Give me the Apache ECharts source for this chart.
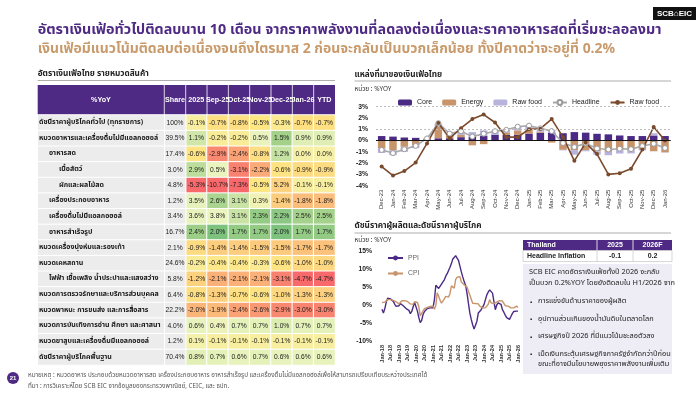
<!DOCTYPE html>
<html><head><meta charset="utf-8">
<script src="https://cdn.jsdelivr.net/npm/echarts@6/dist/echarts.min.js"></script>
<style>html,body{margin:0;padding:0;background:#fff}#c{width:700px;height:394px}</style>
</head><body><div id="c"></div>
<script>
// ---------------- DATA ----------------
const titleLine1 = 'อัตราเงินเฟ้อทั่วไปติดลบนาน 10 เดือน จากราคาพลังงานที่ลดลงต่อเนื่องและราคาอาหารสดที่เริ่มชะลอลงมา';
const titleLine2 = 'เงินเฟ้อมีแนวโน้มติดลบต่อเนื่องจนถึงไตรมาส 2 ก่อนจะกลับเป็นบวกเล็กน้อย ทั้งปีคาดว่าจะอยู่ที่ 0.2%';

const tableColumns = ['2025','Sep-25','Oct-25','Nov-25','Dec-25','Jan-26','YTD'];
const rowNames = [
  'ดัชนีราคาผู้บริโภคทั่วไป (ทุกรายการ)',
  'หมวดอาหารและเครื่องดื่มไม่มีแอลกอฮอล์',
  'อาหารสด',
  'เนื้อสัตว์',
  'ผักและผลไม้สด',
  'เครื่องประกอบอาหาร',
  'เครื่องดื่มไม่มีแอลกอฮอล์',
  'อาหารสำเร็จรูป',
  'หมวดเครื่องนุ่งห่มและรองเท้า',
  'หมวดเคหสถาน',
  'ไฟฟ้า เชื้อเพลิง น้ำประปาและแสงสว่าง',
  'หมวดการตรวจรักษาและบริการส่วนบุคคล',
  'หมวดพาหนะ การขนส่ง และการสื่อสาร',
  'หมวดการบันเทิงการอ่าน ศึกษา และศาสนา',
  'หมวดยาสูบและเครื่องดื่มมีแอลกอฮอล์',
  'ดัชนีราคาผู้บริโภคพื้นฐาน'
];
const rowLevels = [0,0,1,2,2,1,1,1,0,0,1,0,0,0,0,0];
const rowShares = [100,39.5,17.4,3.0,4.8,1.2,3.4,16.7,2.1,24.6,5.8,6.4,22.2,4.0,1.2,70.4];
const tableValues = [
  [-0.1,-0.7,-0.8,-0.5,-0.3,-0.7,-0.7],
  [1.1,-0.2,-0.2,0.5,1.5,0.9,0.9],
  [-0.6,-2.9,-2.4,-0.8,1.2,0.0,0.0],
  [2.9,0.5,-3.1,-2.2,-0.6,-0.9,-0.9],
  [-5.3,-10.7,-7.3,-0.5,5.2,-0.1,-0.1],
  [3.5,2.6,3.1,0.3,-1.4,-1.8,-1.8],
  [3.6,3.8,3.1,2.3,2.2,2.5,2.5],
  [2.4,2.0,1.7,1.7,2.0,1.7,1.7],
  [-0.9,-1.4,-1.4,-1.5,-1.5,-1.7,-1.7],
  [-0.2,-0.4,-0.4,-0.3,-0.6,-1.0,-1.0],
  [-1.2,-2.1,-2.1,-2.1,-3.1,-4.7,-4.7],
  [-0.8,-1.3,-0.7,-0.6,-1.0,-1.3,-1.3],
  [-2.0,-1.9,-2.4,-2.6,-2.9,-3.0,-3.0],
  [0.6,0.4,0.7,0.7,1.0,0.7,0.7],
  [0.1,-0.1,-0.1,-0.1,-0.1,-0.1,-0.1],
  [0.8,0.7,0.6,0.7,0.6,0.6,0.6]
];

const srcMonths = ['Dec-23','Jan-24','Feb-24','Mar-24','Apr-24','May-24','Jun-24','Jul-24','Aug-24','Sep-24','Oct-24','Nov-24','Dec-24',
  'Jan-25','Feb-25','Mar-25','Apr-25','May-25','Jun-25','Jul-25','Aug-25','Sep-25','Oct-25','Nov-25','Dec-25','Jan-26'];
const coreContrib   = [0.4,0.35,0.27,0.24,0.12,0.2,0.2,0.3,0.35,0.4,0.5,0.5,0.5,0.62,0.7,0.7,0.65,0.75,0.7,0.6,0.55,0.45,0.4,0.4,0.45,0.4];
const energyContrib = [-0.7,-0.85,-0.55,-0.42,0.08,1.0,0.25,0.2,-0.42,-0.32,-0.05,0.2,0.4,0.35,0.1,-0.18,-0.82,-0.85,-0.85,-0.95,-1.0,-0.85,-0.82,-0.75,-0.95,-1.05];
const rawFoodContrib= [-0.4,-0.45,-0.45,-0.25,0.0,0.3,0.15,0.3,0.4,0.5,0.4,0.25,0.3,0.33,0.28,0.25,-0.05,-0.4,-0.1,-0.3,-0.3,-0.3,-0.32,-0.12,0.2,-0.02];
const headlineYoY   = [-0.83,-1.11,-0.77,-0.47,0.19,1.54,0.62,0.83,0.35,0.61,0.83,0.95,1.23,1.32,1.08,0.84,-0.22,-0.58,-0.25,-0.70,-0.79,-0.72,-0.76,-0.49,-0.28,-0.66];
const rawFoodYoY    = [-2.3,-3.1,-2.7,-1.95,-0.25,1.55,0.2,1.1,1.9,2.3,1.6,0.3,0.3,1.0,1.05,1.9,0.3,-1.8,-0.2,-1.2,-3.0,-2.9,-2.5,-0.8,1.2,0.0];

const ppiYears = ['18','19','20','21','22','23','24','25'];
const ppiMonthNames = ['Jan','Feb','Mar','Apr','May','Jun','Jul','Aug','Sep','Oct','Nov','Dec'];
const ppiYoY = [
  -1.2,-2.2,-1.0,0.8,1.9,1.6,1.7,1.2,1.0,0.2,-0.4,-0.8,
  -0.2,0.4,0.1,-0.2,-0.6,-1.0,-1.3,-1.5,-2.4,-1.8,-0.5,0.7,
  0.3,-1.7,-3.5,-4.9,-4.3,-2.6,-1.8,-1.3,-1.0,-0.9,-0.8,-0.6,
  -0.8,1.5,5.5,5.0,4.6,5.0,5.8,6.4,7.0,8.0,8.7,9.6,
  10.5,11.5,12.8,13.2,13.7,13.0,12.4,10.8,9.2,7.8,6.5,5.5,
  3.3,0.5,-2.2,-4.0,-5.5,-6.7,-5.6,-4.5,-2.2,-1.8,-1.3,-0.6,
  0.1,1.5,2.8,3.6,4.2,3.9,3.3,1.0,-1.3,0.0,0.6,1.0,
  0.2,-1.3,-2.0,-2.8,-3.5,-3.8,-4.0,-3.2,-2.4,-1.8,-1.5,-1.7,
  -1.7
];
const cpiYoY = [
  0.7,0.4,0.8,1.1,1.5,1.4,1.5,1.6,1.3,1.2,0.9,0.4,
  0.3,0.7,1.2,1.2,1.2,0.9,1.0,0.5,0.3,0.1,0.2,0.9,
  1.1,0.7,-0.5,-3.0,-3.4,-1.6,-1.0,-0.5,-0.7,-0.5,-0.4,-0.3,
  -0.3,-1.2,-0.1,3.4,2.4,1.3,0.5,0.0,1.7,2.4,2.7,2.2,
  3.2,5.3,5.7,4.7,7.1,7.7,7.6,7.9,6.4,6.0,5.6,5.9,
  5.0,3.8,2.8,2.7,0.5,0.2,0.4,0.9,0.3,-0.3,-0.4,-0.8,
  -1.1,-0.8,-0.5,0.2,1.5,0.6,0.8,0.4,0.6,0.8,1.0,1.2,
  1.3,1.1,0.8,-0.2,-0.6,-0.3,-0.7,-0.8,-0.7,-0.8,-0.5,-0.3,
  -0.7
];

const forecastHeader = ['Thailand','2025','2026F'];
const forecastRowName = 'Headline Inflation';
const forecastValues = [-0.1, 0.2];

const boxText = ['SCB EIC คาดอัตราเงินเฟ้อทั้งปี 2026 จะกลับ','เป็นบวก 0.2%YOY โดยยังติดลบใน H1/2026 จาก'];
const boxBullets = [
  ['การแข่งขันด้านราคาของผู้ผลิต'],
  ['อุปทานส่วนเกินของน้ำมันดิบในตลาดโลก'],
  ['เศรษฐกิจปี 2026 ที่มีแนวโน้มชะลอตัวลง'],
  ['เม็ดเงินกระตุ้นเศรษฐกิจภาครัฐจำกัดกว่าปีก่อน','ขณะที่อาจมีนโยบายพยุงราคาพลังงานเพิ่มเติม']
];
const footNote = 'หมายเหตุ : หมวดอาหาร ประกอบด้วยหมวดอาหารสด เครื่องประกอบอาหาร อาหารสำเร็จรูป และเครื่องดื่มไม่มีแอลกอฮอล์เพื่อให้สามารถเปรียบเทียบระหว่างประเทศได้';
const sourceNote = 'ที่มา : การวิเคราะห์โดย SCB EIC จากข้อมูลของกระทรวงพาณิชย์, CEIC, และ ธปท.';

// ---------------- BUILD ----------------
const FF = '"Noto Sans Thai","Noto Sans","Liberation Sans",sans-serif';
const NF = '"Liberation Sans","DejaVu Sans",sans-serif';
const PURPLE = '#4e2a84';
const TAN = '#c8946b';
const ctx = document.createElement('canvas').getContext('2d');
function fitSize(text, weight, target, maxSize){
  ctx.font = weight + ' 100px ' + FF;
  const w = ctx.measureText(text).width;
  return Math.min(maxSize, 100 * target / w);
}

const ppiMonths = [];
ppiYears.forEach(y => ppiMonthNames.forEach(m => ppiMonths.push(m + '-' + y)));
ppiMonths.push('Jan-26');

const heatData = [];
tableValues.forEach((row, i) => row.forEach((v, j) => heatData.push([j, i, v])));
const shareData = rowShares.map((s, i) => [0, i, s]);
const labelData = rowNames.map((n, i) => ({value: [0, i, rowLevels[i]], label: {distance: 2 + rowLevels[i] * 10}}));

// table geometry
const T = {left: 37.7, labelW: 126.6, shareW: 21.4, right: 335, top: 115, height: 250, headTop: 85};
const valLeft = T.left + T.labelW + T.shareW;
const valW = T.right - valLeft;

const heatColors = ['#f8696b','#f8696b','#f8696b','#f8696b','#f8706c','#f87a6d','#f8836f','#fa9d74','#fbb579','#fcca7d','#fdd881','#fee683',
  '#f6f0a6','#eaf3be','#dcedb2','#a3d189','#7cc27d','#a4d18b','#c2e09f','#e6f1bb','#eef4c0','#f7eea0','#fddc85','#fcc47c','#fbb079'];

const rowAxis = (gi) => ({type:'category', gridIndex: gi, inverse: true, data: rowNames, show: false});
const headAxis = (gi, data) => ({type:'category', gridIndex: gi, position:'top', data, z: 10,
  axisLine:{show:false}, axisTick:{show:false},
  axisLabel:{color:'#fff', fontWeight:'bold', fontSize:7.2, fontFamily: NF, margin: 11, interval: 0}});

const boxSize = fitSize(boxText[0], 'normal', 131, 8);

const graphics = [];
// logo
graphics.push({type:'rect', shape:{x:653, y:7, width:43, height:13}, style:{fill:'#111'}});
graphics.push({type:'text', x:674.5, y:13.8, style:{text:'SCB⌂EIC', fill:'#fff', font:'bold 8px ' + NF, align:'center', verticalAlign:'middle'}});
// titles
graphics.push({type:'text', x:37.7, y:31.5, style:{text:titleLine1, fill:PURPLE, fontWeight:'bold', fontFamily:FF, fontSize: fitSize(titleLine1,'bold',624,17), verticalAlign:'middle'}});
graphics.push({type:'text', x:37.7, y:50.5, style:{text:titleLine2, fill:'#c99b6c', fontWeight:'bold', fontFamily:FF, fontSize: fitSize(titleLine2,'bold',578,17), verticalAlign:'middle'}});
// section titles
graphics.push({type:'text', x:37.7, y:74, style:{text:'อัตราเงินเฟ้อไทย รายหมวดสินค้า', fill:'#222', fontWeight:'bold', fontFamily:FF, fontSize:8.2, verticalAlign:'middle'}});
graphics.push({type:'line', shape:{x1:37.7, y1:80.5, x2:335, y2:80.5}, style:{stroke:'#9a9a9a', lineWidth:0.8}});
graphics.push({type:'text', x:354.5, y:75, style:{text:'แหล่งที่มาของเงินเฟ้อไทย', fill:'#222', fontWeight:'bold', fontFamily:FF, fontSize:8.2, verticalAlign:'middle'}});
graphics.push({type:'line', shape:{x1:354.5, y1:81, x2:671, y2:81}, style:{stroke:'#9a9a9a', lineWidth:0.8}});
graphics.push({type:'text', x:354.5, y:89.5, style:{text:'หน่วย : %YOY', fill:'#333', fontFamily:FF, fontSize:6.4, verticalAlign:'middle'}});
graphics.push({type:'text', x:354.5, y:226.5, style:{text:'ดัชนีราคาผู้ผลิตและดัชนีราคาผู้บริโภค', fill:'#222', fontWeight:'bold', fontFamily:FF, fontSize:8.2, verticalAlign:'middle'}});
graphics.push({type:'line', shape:{x1:354.5, y1:233, x2:671, y2:233}, style:{stroke:'#9a9a9a', lineWidth:0.8}});
graphics.push({type:'text', x:354.5, y:241, style:{text:'หน่วย : %YOY', fill:'#333', fontFamily:FF, fontSize:6.4, verticalAlign:'middle'}});
// table header background + separators
graphics.push({type:'rect', z:0, shape:{x:T.left, y:T.headTop, width:T.right - T.left, height:T.top - T.headTop}, style:{fill:PURPLE}});
const sepXs = [T.left + T.labelW, valLeft];
for (let j = 1; j < tableColumns.length; j++) sepXs.push(valLeft + j * valW / tableColumns.length);
sepXs.forEach(x => graphics.push({type:'line', z:1, shape:{x1:x, y1:T.headTop, x2:x, y2:T.top}, style:{stroke:'#fff', lineWidth:0.8}}));

// forecast table
const FT = {x:523, y:240, w:149, h1:10.5, h2:11, c1:597, c2:633};
graphics.push({type:'rect', shape:{x:FT.x, y:FT.y, width:FT.w, height:FT.h1}, style:{fill:PURPLE}});
graphics.push({type:'rect', shape:{x:FT.x, y:FT.y+FT.h1, width:FT.w, height:FT.h2}, style:{fill:'#fff', stroke:'#bdbdbd', lineWidth:0.6}});
[FT.c1, FT.c2].forEach(x => {
  graphics.push({type:'line', shape:{x1:x, y1:FT.y, x2:x, y2:FT.y+FT.h1}, style:{stroke:'#fff', lineWidth:0.8}});
  graphics.push({type:'line', shape:{x1:x, y1:FT.y+FT.h1, x2:x, y2:FT.y+FT.h1+FT.h2}, style:{stroke:'#bdbdbd', lineWidth:0.6}});
});
const fcx = [FT.x + 4, (FT.c1 + FT.c2)/2, (FT.c2 + FT.x + FT.w)/2];
forecastHeader.forEach((t, i) => graphics.push({type:'text', x: fcx[i], y: FT.y + FT.h1/2 + 0.3,
  style:{text:t, fill:'#fff', font:'bold 7px ' + NF, align: i === 0 ? 'left' : 'center', verticalAlign:'middle'}}));
[forecastRowName].concat(forecastValues.map(v => v.toFixed(1))).forEach((t, i) => graphics.push({type:'text', x: fcx[i], y: FT.y + FT.h1 + FT.h2/2 + 0.3,
  style:{text:t, fill:'#222', font:'bold 7px ' + NF, align: i === 0 ? 'left' : 'center', verticalAlign:'middle'}}));

// text box
graphics.push({type:'rect', shape:{x:523, y:264, width:149, height:110}, style:{fill:'#eeedf6'}});
boxText.forEach((t, i) => graphics.push({type:'text', x:529, y:273 + i*10.5, style:{text:t, fill:'#222', fontFamily:FF, fontSize:boxSize, verticalAlign:'middle'}}));
let by = 302;
boxBullets.forEach(lines => {
  graphics.push({type:'text', x:530, y:by, style:{text:'▪', fill:'#222', fontFamily:NF, fontSize:6, verticalAlign:'middle'}});
  lines.forEach((t, k) => graphics.push({type:'text', x:538, y:by + k*10, style:{text:t, fill:'#222', fontFamily:FF, fontSize:boxSize, verticalAlign:'middle'}}));
  by += 17.5;
});
// footer
graphics.push({type:'circle', shape:{cx:13, cy:378, r:6}, style:{fill:PURPLE}});
graphics.push({type:'text', x:13, y:378.3, style:{text:'21', fill:'#fff', font:'bold 6px ' + NF, align:'center', verticalAlign:'middle'}});
graphics.push({type:'text', x:28, y:375.5, style:{text:footNote, fill:'#555', fontFamily:FF, fontSize:6.3, verticalAlign:'middle'}});
graphics.push({type:'text', x:28, y:386.5, style:{text:sourceNote, fill:'#555', fontFamily:FF, fontSize:6.3, verticalAlign:'middle'}});

const option = {
  animation: false,
  backgroundColor: '#fff',
  textStyle: {fontFamily: FF},
  graphic: {elements: graphics},
  grid: [
    {left: T.left, top: T.top, width: T.labelW, height: T.height},
    {left: T.left + T.labelW, top: T.top, width: T.shareW, height: T.height},
    {left: valLeft, top: T.top, width: valW, height: T.height},
    {left: 376, top: 106.7, width: 294.7, height: 79},
    {left: 382, top: 251, width: 136, height: 90}
  ],
  xAxis: [
    headAxis(0, ['%YoY']),
    headAxis(1, ['Share']),
    headAxis(2, tableColumns),
    {type:'category', gridIndex:3, data: srcMonths, axisLine:{show:false}, axisTick:{show:false},
      axisLabel:{rotate:90, interval:0, fontSize:6, color:'#333', fontFamily:NF, margin:4}},
    {type:'category', gridIndex:4, data: ppiMonths, boundaryGap:false, axisLine:{show:false}, axisTick:{show:false},
      axisLabel:{rotate:90, interval:5, fontSize:5.6, color:'#333', fontFamily:NF, margin:4, fontWeight:'bold'}}
  ],
  yAxis: [
    rowAxis(0), rowAxis(1), rowAxis(2),
    {type:'value', gridIndex:3, min:-4, max:3, interval:1, splitLine:{show:false}, axisLine:{show:false}, axisTick:{show:false},
      axisLabel:{formatter:'{value}%', fontSize:6.8, fontWeight:'bold', color:'#222', fontFamily:NF, margin:8}},
    {type:'value', gridIndex:4, min:-10, max:15, interval:5, splitLine:{show:false}, axisLine:{show:false}, axisTick:{show:false},
      axisLabel:{formatter:'{value}%', fontSize:6.8, fontWeight:'bold', color:'#222', fontFamily:NF, margin:10}}
  ],
  visualMap: [{type:'continuous', show:false, seriesIndex:0, dimension:2, min:-6, max:6, inRange:{color: heatColors}}],
  legend: [
    {data:['Core','Energy','Raw food','Headline','Raw food '], left:398, top:99, padding:0, itemWidth:14, itemHeight:6, itemGap:10,
      textStyle:{fontSize:7, color:'#222', fontFamily:NF}},
    {data:['PPI','CPI'], orient:'vertical', left:387, top:254.5, padding:0, itemWidth:15, itemHeight:6, itemGap:8.5,
      textStyle:{fontSize:6.8, color:'#666', fontFamily:NF}}
  ],
  series: [
    {type:'heatmap', xAxisIndex:2, yAxisIndex:2, data: heatData,
      itemStyle:{borderColor:'#fff', borderWidth:1},
      label:{show:true, fontSize:6.7, color:'#1a1a1a', fontFamily:NF, formatter: p => p.value[2].toFixed(1) + '%'}},
    {type:'heatmap', xAxisIndex:1, yAxisIndex:1, data: shareData,
      itemStyle:{color:'#ececec', borderColor:'#fff', borderWidth:1},
      label:{show:true, fontSize:6.7, color:'#1a1a1a', fontFamily:NF, formatter: p => (p.value[2] === 100 ? '100' : p.value[2].toFixed(1)) + '%'}},
    {type:'heatmap', xAxisIndex:0, yAxisIndex:0, data: labelData,
      itemStyle:{color:'#ececec', borderColor:'#fff', borderWidth:1},
      label:{show:true, position:'insideLeft', fontSize:7, fontWeight:'bold', color:'#1a1a1a', fontFamily:FF,
        formatter: p => rowNames[p.value[1]]}},
    {type:'bar', name:'Core', xAxisIndex:3, yAxisIndex:3, stack:'src', data: coreContrib, barWidth:7.5, itemStyle:{color:'#4b2a85'},
      markLine:{silent:true, symbol:'none', label:{show:false}, animation:false,
        data:[{yAxis:3, lineStyle:{type:[2,2], color:'#bdbdbd', width:1}}, {yAxis:1, lineStyle:{type:[2,2], color:'#bdbdbd', width:1}},
              {yAxis:0, lineStyle:{type:'solid', color:'#111', width:1}}]}},
    {type:'bar', name:'Energy', xAxisIndex:3, yAxisIndex:3, stack:'src', data: energyContrib, barWidth:7.5, itemStyle:{color:TAN}},
    {type:'bar', name:'Raw food', xAxisIndex:3, yAxisIndex:3, stack:'src', data: rawFoodContrib, barWidth:7.5, itemStyle:{color:'#b8b3dc'}},
    {type:'line', name:'Headline', xAxisIndex:3, yAxisIndex:3, data: headlineYoY, symbol:'circle', symbolSize:5,
      itemStyle:{color:'#fff', borderColor:'#9a9a9a', borderWidth:1}, lineStyle:{color:'#a8a8a8', width:1.6}},
    {type:'line', name:'Raw food ', xAxisIndex:3, yAxisIndex:3, data: rawFoodYoY, symbol:'circle', symbolSize:4,
      itemStyle:{color:'#7a4a2c'}, lineStyle:{color:'#7a4a2c', width:1.6}},
    {type:'line', name:'PPI', xAxisIndex:4, yAxisIndex:4, data: ppiYoY, symbol:'none', itemStyle:{color:'#4b2a85'}, lineStyle:{color:'#4b2a85', width:1.4}},
    {type:'line', name:'CPI', xAxisIndex:4, yAxisIndex:4, data: cpiYoY, symbol:'none', itemStyle:{color:TAN}, lineStyle:{color:TAN, width:1.4}}
  ]
};
const chart = echarts.init(document.getElementById('c'), null, {renderer:'canvas', width:700, height:394});
chart.setOption(option);
</script></body></html>
